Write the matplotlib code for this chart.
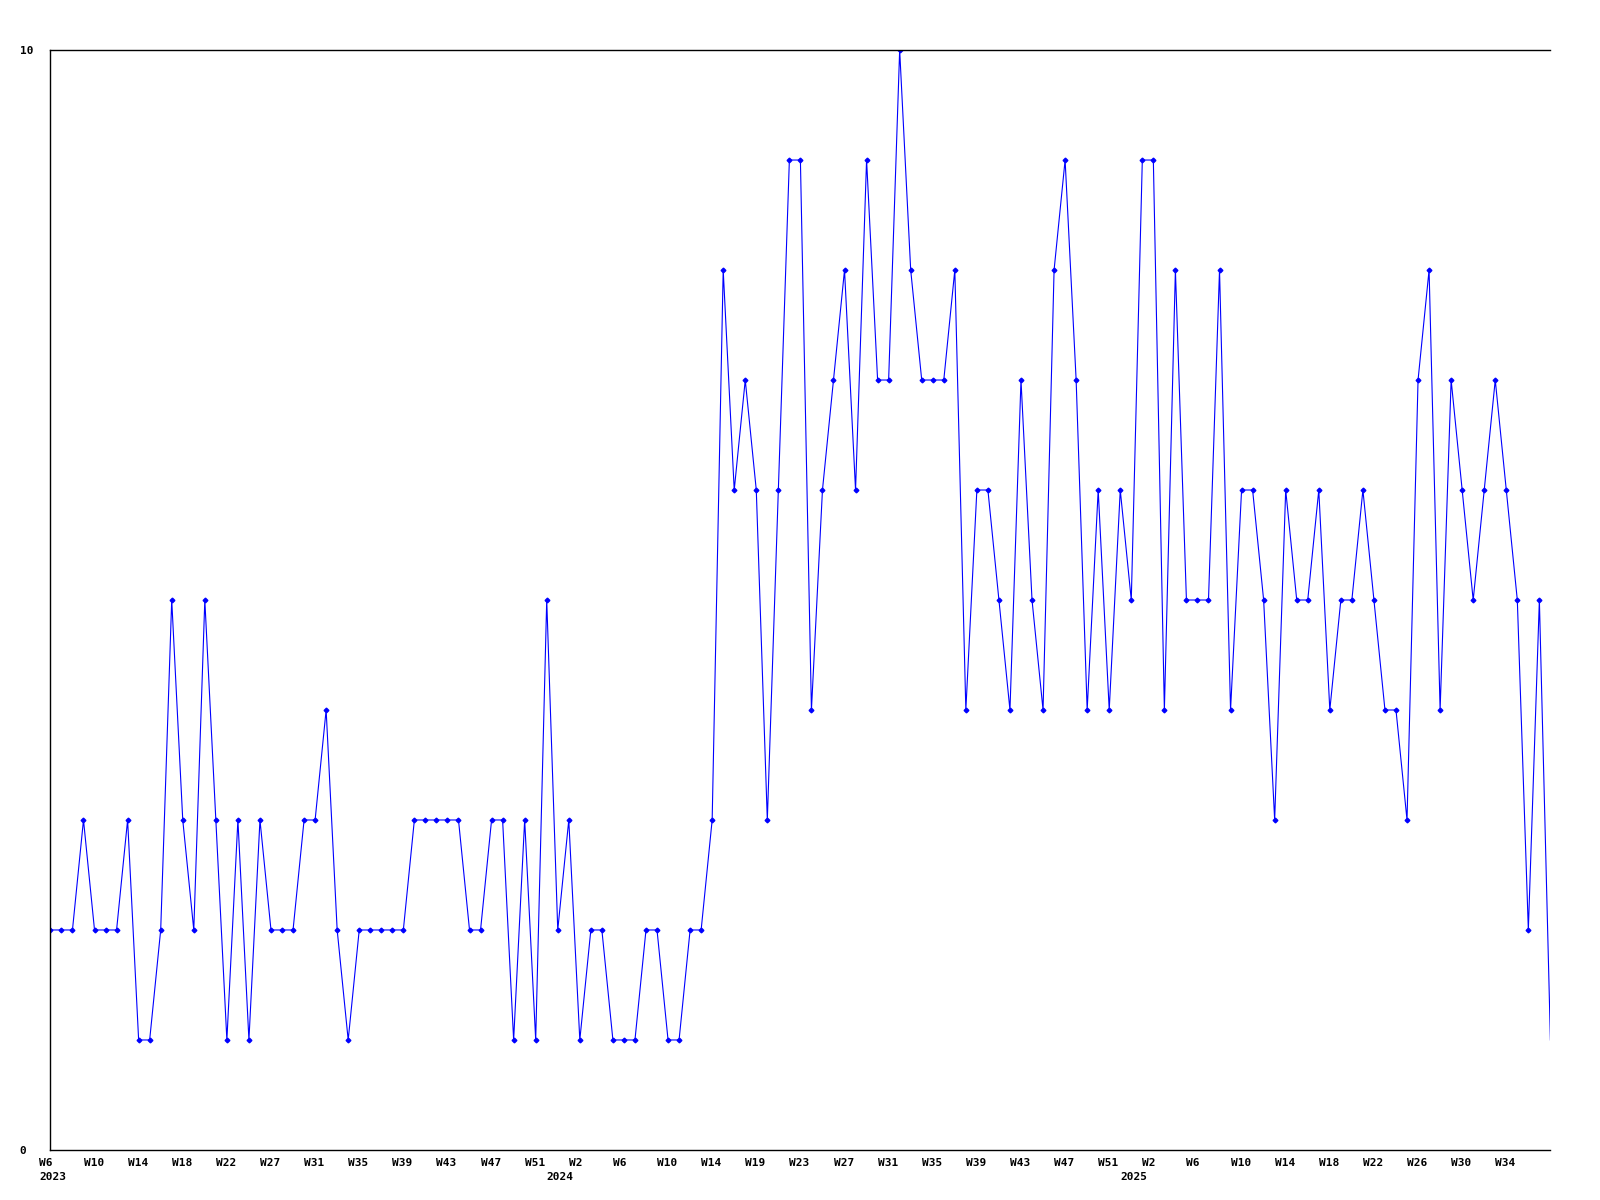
import matplotlib
matplotlib.use("Agg")
import matplotlib.pyplot as plt
import matplotlib.transforms as mtransforms

# weekly values, W6 2023 .. W38 2025
values = [2, 2, 2, 3, 2, 2, 2, 3, 1, 1,
          2, 5, 3, 2, 5, 3, 1, 3, 1, 3,
          2, 2, 2, 3, 3, 4, 2, 1, 2, 2,
          2, 2, 2, 3, 3, 3, 3, 3, 2, 2,
          3, 3, 1, 3, 1, 5, 2, 3, 1, 2,
          2, 1, 1, 1, 2, 2, 1, 1, 2, 2,
          3, 8, 6, 7, 6, 3, 6, 9, 9, 4,
          6, 7, 8, 6, 9, 7, 7, 10, 8, 7,
          7, 7, 8, 4, 6, 6, 5, 4, 7, 5,
          4, 8, 9, 7, 4, 6, 4, 6, 5, 9,
          9, 4, 8, 5, 5, 5, 8, 4, 6, 6,
          5, 3, 6, 5, 5, 6, 4, 5, 5, 6,
          5, 4, 4, 3, 7, 8, 4, 7, 6, 5,
          6, 7, 6, 5, 2, 5, 1]

week_labels = ["W6", "W10", "W14", "W18", "W22", "W27", "W31", "W35", "W39",
               "W43", "W47", "W51",
               "W2", "W6", "W10", "W14", "W19", "W23", "W27", "W31", "W35",
               "W39", "W43", "W47", "W51",
               "W2", "W6", "W10", "W14", "W18", "W22", "W26", "W30", "W34"]
label_step = 4

years = ["2023", "2024", "2025"]
year_start = [0, 46, 98]

plt.rcParams['font.family'] = ['DejaVu Sans Mono']
plt.rcParams['font.weight'] = 'bold'

fig = plt.figure(figsize=(16, 12), dpi=100)
ax = fig.add_axes([0.0315, 0.0417, 0.9375, 0.9166])

x = list(range(len(values)))
ax.plot(x, values, color=(0, 0, 1), lw=0.8)
# last week has no marker in the original
ax.plot(x[:-1], values[:-1], ls='none', marker='D', ms=2.4, color=(0, 0, 1))

ax.set_xlim(0, len(values) - 1)
ax.set_ylim(0, 10)

ax.spines['right'].set_visible(False)
for s in ['top', 'left', 'bottom']:
    ax.spines[s].set_linewidth(1.0)
    ax.spines[s].set_color('black')

offset = mtransforms.ScaledTranslation(-11 / 100, 0, fig.dpi_scale_trans)

ax.set_xticks([i * label_step for i in range(len(week_labels))])
ax.set_xticklabels(week_labels, fontsize=8, fontweight='bold', ha='left')
ax.tick_params(axis='x', length=0, pad=6)
for lab in ax.get_xticklabels():
    lab.set_transform(lab.get_transform() + offset)

ax.set_yticks([0, 10])
ax.set_yticklabels(["0", "10"], fontsize=8, fontweight='bold', ha='left')
ax.tick_params(axis='y', length=0, pad=22)

for yr, xi in zip(years, year_start):
    ax.text(xi, -0.025, yr, transform=ax.get_xaxis_transform() + offset,
            ha='left', va='center', fontsize=8, fontweight='bold')

fig.savefig("out.png", dpi=100)
